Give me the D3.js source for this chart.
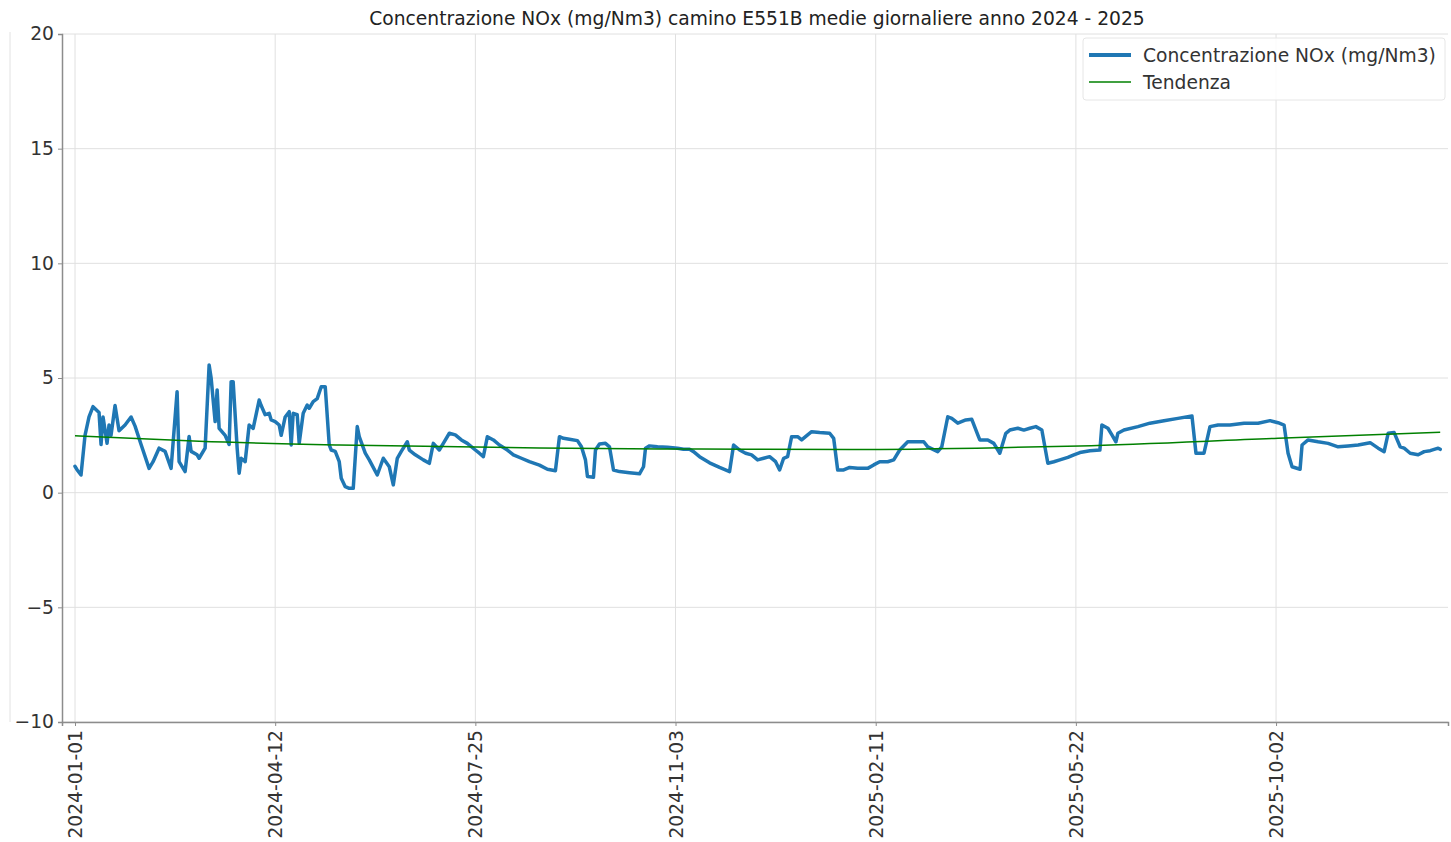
<!DOCTYPE html>
<html>
<head>
<meta charset="utf-8">
<script src="https://cdn.jsdelivr.net/npm/d3@7"></script>
<style>
  html, body { margin: 0; padding: 0; background: #fff; }
  svg { display: block; }
  text { font-family: "DejaVu Sans", sans-serif; }
</style>
</head>
<body>
<script>
// ---- data (x = day index in the series, y = mg/Nm3) ----
const titleText = "Concentrazione NOx (mg/Nm3) camino E551B medie giornaliere anno 2024 - 2025";
const seriesName = "Concentrazione NOx (mg/Nm3)";
const trendName = "Tendenza";

const tickIndex = [0, 100, 200, 300, 400, 500, 600];
const tickLabels = ["2024-01-01", "2024-04-12", "2024-07-25", "2024-11-03", "2025-02-11", "2025-05-22", "2025-10-02"];
const yTicks = [-10, -5, 0, 5, 10, 15, 20];

const dayIndex = [0,1,3,5,7,9,12,13,14,16,17,18,20,22,25,28,30,33,37,39,42,45,48,51,52,55,57,58,61,62,65,67,68,70,71,72,75,77,78,79,81,82,83,85,87,89,92,93,95,97,98,100,102,103,105,107,108,109,111,112,114,116,117,119,121,123,125,127,128,130,132,133,135,137,139,141,142,145,147,151,154,157,159,161,163,166,167,170,174,177,179,182,184,187,190,193,196,200,202,204,206,209,212,216,219,223,227,232,236,240,242,244,247,251,253,255,256,259,260,262,265,267,269,272,277,282,284,285,287,291,296,301,304,307,309,312,317,322,327,329,332,335,338,341,344,347,350,352,354,356,358,361,363,366,368,372,377,379,381,384,387,391,396,399,402,406,409,412,416,419,424,426,431,433,436,438,441,445,448,451,452,456,459,462,465,467,471,474,477,480,483,486,489,492,496,499,502,507,512,513,516,518,520,521,524,531,537,544,551,558,560,564,567,571,577,584,591,597,601,604,606,608,612,613,616,621,626,631,636,641,647,651,654,656,659,662,664,667,671,674,677,681,682];
const noxValues = [1.15,1.0,0.77,2.5,3.3,3.75,3.5,2.1,3.3,2.15,2.95,2.5,3.8,2.7,2.95,3.3,2.9,2.1,1.06,1.35,1.94,1.8,1.06,4.4,1.35,0.92,2.45,1.8,1.65,1.5,1.94,5.57,5.0,3.1,4.48,2.8,2.5,2.1,4.84,4.84,1.94,0.85,1.5,1.35,2.95,2.8,4.04,3.8,3.4,3.46,3.17,3.1,2.95,2.5,3.3,3.53,2.08,3.46,3.4,2.15,3.46,3.82,3.68,3.97,4.1,4.62,4.62,2.08,1.86,1.8,1.35,0.63,0.26,0.19,0.19,2.88,2.44,1.72,1.43,0.77,1.5,1.13,0.34,1.5,1.8,2.22,1.86,1.65,1.43,1.28,2.15,1.86,2.15,2.59,2.52,2.3,2.15,1.86,1.72,1.57,2.44,2.3,2.08,1.86,1.65,1.5,1.35,1.2,1.02,0.96,2.44,2.37,2.33,2.27,2.0,1.43,0.7,0.67,1.86,2.12,2.15,2.0,0.99,0.92,0.87,0.82,1.13,1.94,2.04,2.0,1.98,1.94,1.89,1.89,1.79,1.57,1.3,1.1,0.92,2.08,1.86,1.72,1.65,1.43,1.5,1.57,1.35,0.99,1.5,1.57,2.44,2.44,2.3,2.52,2.66,2.62,2.59,2.37,0.99,0.99,1.1,1.06,1.06,1.21,1.35,1.35,1.43,1.86,2.22,2.22,2.22,2.0,1.79,2.0,3.31,3.24,3.03,3.17,3.2,2.52,2.3,2.3,2.15,1.72,2.59,2.73,2.81,2.73,2.81,2.88,2.73,1.28,1.35,1.43,1.54,1.65,1.75,1.83,1.86,2.95,2.81,2.52,2.22,2.59,2.73,2.88,3.03,3.14,3.24,3.34,1.72,1.72,2.88,2.95,2.95,3.03,3.03,3.14,3.05,2.95,1.72,1.13,1.02,2.08,2.3,2.22,2.15,2.0,2.04,2.08,2.18,1.94,1.79,2.59,2.62,2.0,1.94,1.72,1.65,1.79,1.83,1.94,1.89];

const trendIndex = [0, 62, 132, 232, 312, 387, 462, 502, 601, 682];
const trendValues = [2.48, 2.24, 2.08, 1.95, 1.9, 1.88, 1.96, 2.04, 2.37, 2.63];

// ---- layout ----
const W = 1451, H = 842;
const M = { left: 62, right: 1448, top: 34, bottom: 722 };
const FS = "18.7px";

const svg = d3.select("body").append("svg").attr("width", W).attr("height", H);

const x = d3.scaleLinear().domain([-6.5, 685.9]).range([M.left, M.right]);
const y = d3.scaleLinear().domain([-10, 20]).range([M.bottom, M.top]);

// faint artefact of neighbouring panel on the far left
svg.append("line").attr("x1", 10).attr("x2", 10).attr("y1", M.top - 2).attr("y2", M.bottom)
  .attr("stroke", "#e2e2e2").attr("stroke-width", 1);

// grid
svg.append("g").selectAll("line").data(yTicks).join("line")
  .attr("x1", M.left).attr("x2", M.right)
  .attr("y1", d => y(d)).attr("y2", d => y(d))
  .attr("stroke", "#e0e0e0").attr("stroke-width", 1);
svg.append("g").selectAll("line").data(tickIndex).join("line")
  .attr("x1", d => x(d)).attr("x2", d => x(d))
  .attr("y1", M.top).attr("y2", M.bottom)
  .attr("stroke", "#e0e0e0").attr("stroke-width", 1);

// axes
const yAxis = svg.append("g").attr("transform", `translate(${M.left},0)`)
  .call(d3.axisLeft(y).tickValues(yTicks).tickSize(4).tickPadding(4).tickFormat(d3.format("d")));
const xAxis = svg.append("g").attr("transform", `translate(0,${M.bottom})`)
  .call(d3.axisBottom(x).tickValues(tickIndex).tickSize(4).tickFormat((d, i) => tickLabels[i]));

[yAxis, xAxis].forEach(g => {
  g.select(".domain").attr("stroke", "#8c8c8c").attr("stroke-width", 1.5);
  g.selectAll(".tick line").attr("stroke", "#8c8c8c");
  g.selectAll("text").attr("fill", "#333").style("font-size", FS).style("font-family", "DejaVu Sans, sans-serif");
});
xAxis.selectAll(".tick text")
  .attr("transform", "rotate(-90)")
  .attr("text-anchor", "end")
  .attr("x", -8).attr("y", 0).attr("dy", "0.35em");

// data
const pts = dayIndex.map((d, i) => [d, noxValues[i]]);
const line = d3.line().x(d => x(d[0])).y(d => y(d[1]));
svg.append("path").datum(pts).attr("d", line)
  .attr("fill", "none").attr("stroke", "#1f77b4").attr("stroke-width", 3.5)
  .attr("stroke-linejoin", "round").attr("stroke-linecap", "round");

const tpts = trendIndex.map((d, i) => [d, trendValues[i]]);
svg.append("path").datum(tpts).attr("d", d3.line().x(d => x(d[0])).y(d => y(d[1])).curve(d3.curveMonotoneX))
  .attr("fill", "none").attr("stroke", "#008000").attr("stroke-width", 1.5);

// title
svg.append("text").attr("x", 757).attr("y", 25)
  .attr("text-anchor", "middle").attr("fill", "#222").style("font-size", FS)
  .text(titleText);

// legend
const lg = svg.append("g").attr("transform", "translate(1083,38)");
lg.append("rect").attr("x", 0).attr("y", 0).attr("width", 362).attr("height", 62).attr("rx", 3)
  .attr("fill", "#fff").attr("fill-opacity", 0.85).attr("stroke", "#e6e6e6");
lg.append("line").attr("x1", 6).attr("x2", 48).attr("y1", 17).attr("y2", 17)
  .attr("stroke", "#1f77b4").attr("stroke-width", 4);
lg.append("text").attr("x", 60).attr("y", 17).attr("dy", "0.35em").attr("fill", "#333")
  .style("font-size", FS).text(seriesName);
lg.append("line").attr("x1", 6).attr("x2", 48).attr("y1", 44).attr("y2", 44)
  .attr("stroke", "#008000").attr("stroke-width", 1.5);
lg.append("text").attr("x", 60).attr("y", 44).attr("dy", "0.35em").attr("fill", "#333")
  .style("font-size", FS).text(trendName);
</script>
</body>
</html>
